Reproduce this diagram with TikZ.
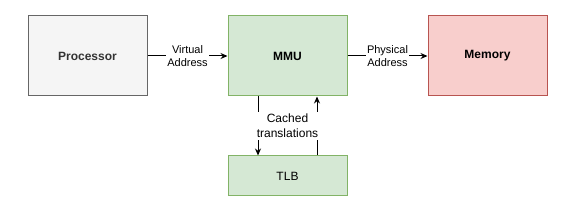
\documentclass[tikz,border=0pt]{standalone}
\usepackage{fontspec}
\setmainfont{Liberation Sans}
\usetikzlibrary{arrows.meta}
\definecolor{procfill}{HTML}{F5F5F5}
\definecolor{procline}{HTML}{666666}
\definecolor{proctext}{HTML}{333333}
\definecolor{mmufill}{HTML}{D5E8D4}
\definecolor{mmuline}{HTML}{82B366}
\definecolor{memfill}{HTML}{F8CECC}
\definecolor{memline}{HTML}{B85450}

\begin{document}
\begin{tikzpicture}[
  x=1pt, y=-1pt,
  blk/.style={rectangle, draw, line width=1pt, inner sep=0pt,
              minimum width=119pt, minimum height=80pt,
              font=\bfseries\fontsize{12}{14}\selectfont},
  tlbblk/.style={blk, minimum height=40pt, font=\fontsize{12}{14}\selectfont},
  lbl/.style={fill=white, align=center, inner sep=1pt,
              font=\fontsize{11}{12.5}\selectfont},
  biglbl/.style={lbl, inner sep=2pt, font=\fontsize{12}{15}\selectfont},
  edge/.style={-{Stealth[length=7pt,width=6pt]}, line width=1pt}
]
  \useasboundingbox (0,0) rectangle (573,221);

  \node[blk, fill=procfill, draw=procline, text=proctext] (proc) at (87.5,56) {Processor};
  \node[blk, fill=mmufill, draw=mmuline] (mmu) at (287.5,56) {MMU};
  \node[blk, fill=memfill, draw=memline] (mem) at (487.5,56) {Memory};
  \node[tlbblk, fill=mmufill, draw=mmuline] (tlb) at (287.5,176) {TLB};

  \draw[edge] (proc) -- node[lbl] (virt) {Virtual\\Address} (mmu);
  \draw[edge] (mmu) -- node[lbl] (phys) {Physical\\Address} (mem);

  \draw[edge] ([xshift=-29.5pt]mmu.south) -- ([xshift=-29.5pt]tlb.north);
  \draw[edge] ([xshift=29.5pt]tlb.north) -- ([xshift=29.5pt]mmu.south);
  \node[biglbl] (cache) at (287.5,126) {Cached\\translations};
\end{tikzpicture}
\end{document}
